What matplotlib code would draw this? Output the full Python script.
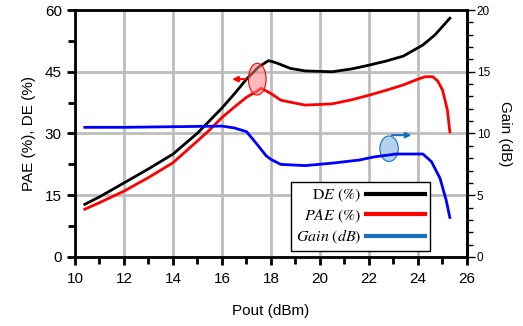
import numpy as np
import matplotlib
matplotlib.use('Agg')
import matplotlib.pyplot as plt
from matplotlib.lines import Line2D
from matplotlib.patches import Ellipse

plt.rcParams['font.family'] = ['Liberation Sans', 'DejaVu Sans']
plt.rcParams['mathtext.fontset'] = 'stix'

# data
pout_de = [10.4, 11, 12, 13, 14, 15, 16, 16.5, 17, 17.5, 17.9, 18.2, 18.8, 19.4, 20.5,
           21.3, 22.0, 22.7, 23.4, 24.2, 24.7, 25.3]
de = [12.8, 14.6, 18.0, 21.4, 25.0, 30.1, 36.2, 39.6, 43.2, 46.2, 47.7, 47.2, 45.8, 45.2, 45.0,
      45.7, 46.6, 47.6, 48.8, 51.5, 54.0, 58.0]

pout_pae = [10.4, 11, 12, 13, 14, 15, 15.5, 16, 16.5, 17, 17.4, 17.6, 18.0, 18.4, 18.8, 19.4,
            20.5, 21.3, 22.0, 22.7, 23.4, 24.0, 24.3, 24.6, 24.8, 25.0, 25.2, 25.3]
pae = [11.6, 13.2, 16.0, 19.3, 22.9, 28.2, 30.9, 33.9, 36.4, 38.8, 40.2, 41.0, 39.7, 38.1, 37.6, 36.9,
       37.2, 38.2, 39.3, 40.5, 41.8, 43.2, 43.8, 43.8, 42.8, 40.6, 35.7, 30.4]

pout_gain = [10.4, 12, 14, 16, 16.5, 17, 17.4, 17.8, 18.0, 18.4, 19.4, 20.5, 21.6, 22.2, 23.1,
             24.2, 24.55, 24.9, 25.15, 25.3]
gain = [10.5, 10.5, 10.55, 10.6, 10.45, 10.15, 9.2, 8.2, 7.9, 7.5, 7.4, 7.6, 7.85, 8.1, 8.34,
        8.34, 7.72, 6.37, 4.6, 3.2]

fig = plt.figure(figsize=(5.23, 3.26), dpi=100)
ax = fig.add_axes([0.1434, 0.2117, 0.7495, 0.7576])
ax2 = ax.twinx()

ax.grid(True, color='#bdbdbd', linewidth=2)
ax.set_axisbelow(True)
ax.plot(pout_de, de, color='black', linewidth=2, zorder=3)
ax.plot(pout_pae, pae, color='red', linewidth=2, zorder=3)
ax2.plot(pout_gain, gain, color='blue', linewidth=2)

ax.set_xlim(10, 26)
ax.set_ylim(0, 60)
ax2.set_ylim(0, 20)
ax.set_xticks(np.arange(10, 27, 2))
ax.set_xticks(np.arange(11, 26, 2), minor=True)
ax.set_yticks(np.arange(0, 61, 15))
ax.set_yticks(np.arange(7.5, 60, 15), minor=True)
ax2.set_yticks(np.arange(0, 21, 5))
ax2.set_yticks(np.arange(0, 21, 1), minor=True)

ax.tick_params(which='both', direction='out', width=2, labelsize=11)
ax.tick_params(which='major', length=6)
ax.tick_params(which='minor', length=5)
ax.tick_params(axis='x', pad=5)
ax2.tick_params(which='major', direction='out', length=6, width=1, labelsize=8.5, pad=1)
ax2.tick_params(which='minor', direction='out', length=4, width=1)
for s in ax.spines.values():
    s.set_linewidth(2)
ax2.spines['right'].set_linewidth(2)

ax.set_xlabel('Pout (dBm)', fontsize=11, labelpad=13)
ax.set_ylabel('PAE (%), DE (%)', fontsize=11, labelpad=6)
ax2.set_ylabel('Gain (dB)', fontsize=11, rotation=270, labelpad=16)

# markers showing which axis each group belongs to
ax.add_patch(Ellipse((17.44, 43.2), 0.72, 7.7, facecolor=(1, 0.5, 0.5, 0.55),
                     edgecolor='red', linewidth=0.8, zorder=4))
ax.annotate('', xy=(16.3, 43.2), xytext=(17.08, 43.2),
            arrowprops=dict(arrowstyle='-|>', color='red', lw=1.5, mutation_scale=8), zorder=4)
ax.add_patch(Ellipse((22.82, 26.3), 0.75, 6.2, facecolor=(0.35, 0.6, 0.85, 0.45),
                     edgecolor='#1a6fc0', linewidth=0.8, zorder=4))
ax.annotate('', xy=(23.85, 29.6), xytext=(22.82, 29.6),
            arrowprops=dict(arrowstyle='-|>', color='#1a6fc0', lw=1.5, mutation_scale=8), zorder=4)

handles = [Line2D([], [], color='black', linewidth=3),
           Line2D([], [], color='red', linewidth=3),
           Line2D([], [], color='#1a6fc0', linewidth=3)]
labels = [r'$\mathrm{D}E\ (\%)$', r'$PAE\ (\%)$', r'$Gain\ (dB)$']
leg = ax2.legend(handles, labels, loc='lower left', bbox_to_anchor=(0.551, 0.024),
                 borderaxespad=0, fontsize=11.5, markerfirst=False, handlelength=3.7,
                 handletextpad=0.3, labelspacing=0.2, borderpad=0.3, fancybox=False,
                 framealpha=1, edgecolor='black')
leg.get_frame().set_linewidth(1)

plt.savefig('out.png', dpi=100)
plt.close('all')
